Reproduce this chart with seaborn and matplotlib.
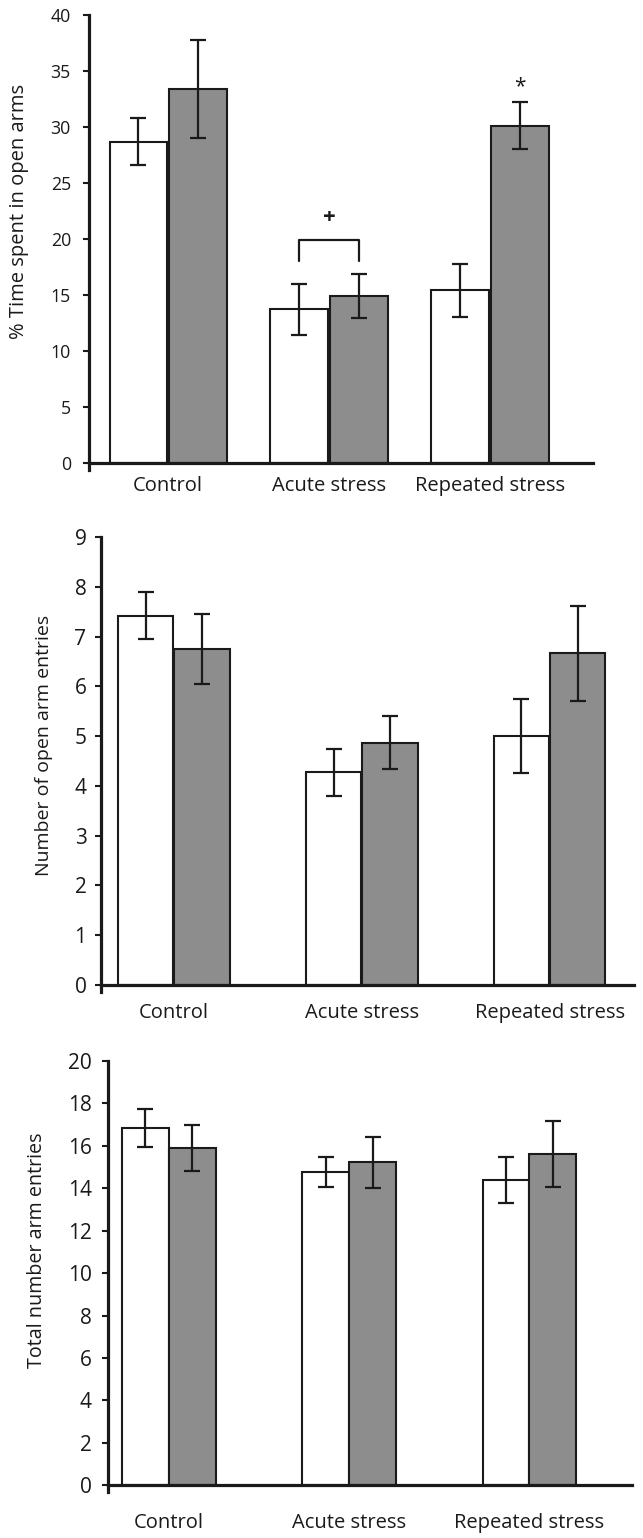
import numpy as np
import pandas as pd
import matplotlib
matplotlib.use("Agg")
import matplotlib.pyplot as plt
import seaborn as sns

categories = ["Control", "Acute stress", "Repeated stress"]
groups = ["white", "grey"]

time_white = [28.7, 13.7, 15.4]
time_grey = [33.4, 14.9, 30.1]
time_white_err = [2.1, 2.3, 2.4]
time_grey_err = [4.4, 2.0, 2.1]

entries_white = [7.42, 4.27, 5.0]
entries_grey = [6.75, 4.87, 6.66]
entries_white_err = [0.47, 0.48, 0.75]
entries_grey_err = [0.70, 0.53, 0.96]

total_white = [16.84, 14.76, 14.39]
total_grey = [15.9, 15.22, 15.61]
total_white_err = [0.9, 0.7, 1.1]
total_grey_err = [1.1, 1.2, 1.55]

sns.set_style("white")
plt.rcParams["font.family"] = ["Open Sans", "DejaVu Sans"]

fill = {"white": "white", "grey": "#8d8d8d"}
ink = "#1a1a1a"


def make_df(white, grey):
    rows = []
    for i, c in enumerate(categories):
        rows.append({"cat": c, "grp": "white", "val": white[i]})
        rows.append({"cat": c, "grp": "grey", "val": grey[i]})
    return pd.DataFrame(rows)


def panel(ax, white, grey, werr, gerr, width, gap, ymax, step, ylabel,
          xlim, label_xy, ysize, ylsize, ypad, xpad):
    df = make_df(white, grey)
    sns.barplot(data=df, x="cat", y="val", hue="grp", order=categories,
                hue_order=groups, palette=fill, width=width, gap=gap,
                edgecolor=ink, linewidth=1.5, errorbar=None,
                legend=False, ax=ax)
    # error bars at the bar centres
    for k, (vals, errs) in enumerate([(white, werr), (grey, gerr)]):
        xs = np.arange(len(categories)) + (k - 0.5) * width / 2
        ax.errorbar(xs, vals, yerr=errs, fmt="none", ecolor=ink,
                    elinewidth=1.6, capsize=6, capthick=1.6, zorder=5)
    ax.set_xlim(*xlim)
    ax.set_ylim(-ymax * 0.016, ymax)
    ax.set_yticks(np.arange(0, ymax + 0.01, step))
    ax.spines["right"].set_visible(False)
    ax.spines["top"].set_visible(False)
    ax.spines["bottom"].set_position(("data", 0))
    for s in ["left", "bottom"]:
        ax.spines[s].set_linewidth(2.3)
        ax.spines[s].set_color(ink)
    ax.tick_params(axis="y", direction="out", length=4.3, width=1.5,
                   labelsize=ysize, pad=ypad, left=True, colors=ink)
    ax.tick_params(axis="x", length=0, labelsize=14.5, pad=xpad,
                   colors=ink)
    ax.set_xlabel("")
    ax.set_ylabel(ylabel, fontsize=ylsize, color=ink)
    ax.yaxis.set_label_coords(*label_xy)


fig = plt.figure(figsize=(6.43, 15.38), dpi=100)
ax1 = fig.add_axes([0.139, 0.6944, 0.783, 0.2958])
ax2 = fig.add_axes([0.1563, 0.355, 0.830, 0.2958])
ax3 = fig.add_axes([0.1672, 0.0299, 0.816, 0.2802])

panel(ax1, time_white, time_grey, time_white_err, time_grey_err,
      0.74, 0.03, 40, 5, "% Time spent in open arms",
      (-0.49, 2.64), (-0.12, 0.569), 12.8, 14.5, 9, 9.4)
panel(ax2, entries_white, entries_grey, entries_white_err, entries_grey_err,
      0.60, 0.02, 9, 1, "Number of open arm entries",
      (-0.39, 2.45), (-0.089, 0.543), 15, 14, 5.8, 13)
panel(ax3, total_white, total_grey, total_white_err, total_grey_err,
      0.52, 0.0, 20, 2, "Total number arm entries",
      (-0.34, 2.57), (-0.115, 0.561), 15, 14.2, 7, 20)

# significance marks on the first panel
xa = 1 - 0.74 / 4
xb = 1 + 0.74 / 4
ax1.plot([xa, xa, xb, xb], [18.0, 19.9, 19.9, 18.0], color=ink, lw=1.6)
ax1.text(1, 21.9, "+", ha="center", va="center", fontsize=16,
         fontweight="bold", color=ink)
ax1.text(2 + 0.74 / 4, 33.6, "*", ha="center", va="center", fontsize=15,
         color=ink)

fig.savefig("out.png", dpi=100)
